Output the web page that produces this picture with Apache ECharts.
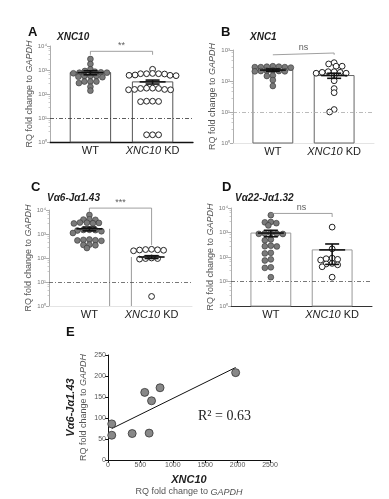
<!DOCTYPE html>
<html><head><meta charset="utf-8">
<script src="https://cdn.jsdelivr.net/npm/echarts@6/dist/echarts.min.js"></script>
<style>html,body{margin:0;padding:0;background:#fff}#c{width:389px;height:499px}</style>
</head><body><div id="c"></div>
<script>
// ---------- data ----------
const groups = ['WT', 'XNC10 KD'];
// Panel A  XNC10
const aWT = [2870,1780,1070,910,850,800,775,775,730,560,560,560,525,500,330,330,330,285,200,138];
const aKD = [1070,720,700,700,680,700,620,600,600,580,175,170,175,170,155,150,155,150,50,48,49,50,2,2,2];
const aMean = [780, 320];
const aSem = [150, 60];
// Panel B  XNC1
const bWT = [290,280,270,280,290,300,280,215,205,210,220,210,205,150,145,107,69];
const bKD = [300,355,390,300,200,178,190,200,178,190,145,102,57,42,10,12];
const bMean = [225, 150];
const bSem = [20, 28];
// Panel C  Va6-Ja1.43
const cWT = [6200,4000,3900,4100,2900,2800,3000,2950,2750,1500,1450,1480,1400,1300,1100,570,540,590,550,520,350,360,340,260];
const cKD = [230,215,200,220,210,225,95,90,100,95,2.5];
const cMean = [1650, 110];
const cSem = [300, 15];
// Panel D  Va22-Ja1.32
const dWT = [5100,2600,2400,2700,1950,900,950,870,920,880,520,480,275,290,270,148,140,80,72,36,38,15];
const dKD = [1660,215,90,80,75,85,52,48,55,40,15];
const dMean = [950, 195];
const dSem = [280, 145];
// Panel E  correlation
const eX = [58,58,373,567,672,803,635,1970];
const eY = [86,59,63,161,141,172,64,208];
const eXTicks = [0,500,1000,1500,2000,2500];
const eYTicks = [0,50,100,150,200,250];
const sigLabels = ['**','ns','***','ns'];
const rSquaredText = 'R\u00B2 = 0.63';

// ---------- layout / style ----------
const FONT = 'Liberation Sans';
const SUP = ['\u2070','\u00B9','\u00B2','\u00B3','\u2074','\u2075'];
const XMIN = 0.35, XMAX = 2.65, BW = 0.65, DIAM = 5.8;
const panels = [
  {letter:'A', title:'XNC10', wt:aWT, kd:aKD, mean:aMean, sem:aSem, maxExp:4,
   grid:{left:50, top:46, width:143, height:96}, xLine:{color:'#111', width:1.3},
   barStroke:'#555', barMode:'box', dash:{color:'#333', type:[4,2,1,2]},
   br:{top:6000, l:4300, r:4300}, letterPos:[28,26], titlePos:[57,32]},
  {letter:'B', title:'XNC1', wt:bWT, kd:bKD, mean:bMean, sem:bSem, maxExp:3,
   grid:{left:233, top:50, width:141, height:93}, xLine:{color:'#ddd', width:0.8},
   barStroke:'#666', barMode:'box', dash:{color:'#aaa', type:[4,2,1,2]},
   br:{top:800, l:700, r:700}, letterPos:[221,26], titlePos:[250,32]},
  {letter:'C', title:'V\u03B16-J\u03B11.43', wt:cWT, kd:cKD, mean:cMean, sem:cSem, maxExp:4,
   grid:{left:49, top:210, width:143, height:96}, xLine:{color:'#ddd', width:0.8},
   barStroke:'#999', barMode:'inner', dash:{color:'#555', type:[4,2,1,2]},
   br:{top:12000, l:8300, r:350}, letterPos:[31,181], titlePos:[47,193]},
  {letter:'D', title:'V\u03B122-J\u03B11.32', wt:dWT, kd:dKD, mean:dMean, sem:dSem, maxExp:4,
   grid:{left:231, top:208, width:141, height:98}, xLine:{color:'#333', width:1},
   barStroke:'#999', barMode:'box', dash:{color:'#555', type:[4,2,1,2]},
   br:{top:6000, l:4300, r:4300}, letterPos:[222,181], titlePos:[235,193]}
];

// beeswarm layout (rows may overlap a little vertically, like the original)
function swarm(vals, xc, p){
  const H = p.grid.height, pxPerUnit = p.grid.width / (XMAX - XMIN);
  const pts = vals.map(v => ({v, py:(p.maxExp - Math.log10(v)) / p.maxExp * H}))
                  .sort((a,b) => a.py - b.py);
  const placed = [], out = [];
  const D2 = DIAM * DIAM;
  for (const q of pts){
    let off = 0;
    for (let k = 0; k < 400; k++){
      const cand = (k % 2 === 0 ? 1 : -1) * Math.ceil(k/2) * 0.5;
      let ok = true;
      for (const r of placed){
        const dx = r.px - cand, dy = r.py - q.py;
        if (dx*dx + 2.4*dy*dy < D2) { ok = false; break; }
      }
      if (ok){ off = cand; break; }
    }
    placed.push({px:off, py:q.py});
    out.push([xc + off / pxPerUnit, q.v]);
  }
  return out;
}

const grids = [], xAxes = [], yAxes = [], series = [], titles = [];
panels.forEach((p, i) => {
  grids.push(Object.assign({containLabel:false}, p.grid));
  xAxes.push({
    gridIndex:i, type:'value', min:XMIN, max:XMAX,
    axisLine:{show:true, onZero:false, lineStyle:{color:p.xLine.color, width:p.xLine.width}},
    axisTick:{show:false}, splitLine:{show:false},
    axisLabel:{customValues:[1,2], margin:3, fontFamily:FONT, fontSize:11, color:'#222',
      formatter: v => v === 1 ? groups[0] : '{i|' + groups[1].split(' ')[0] + '} ' + groups[1].split(' ')[1],
      rich:{i:{fontStyle:'italic', fontFamily:FONT, fontSize:11, color:'#222'}}}
  });
  yAxes.push({
    gridIndex:i, type:'log', logBase:10, min:1, max:Math.pow(10, p.maxExp),
    axisLine:{show:true, lineStyle:{color:'#999', width:0.8}},
    axisTick:{show:true, length:3, lineStyle:{color:'#999', width:0.8}},
    minorTick:{show:true, splitNumber:5, length:1.5, lineStyle:{color:'#aaa', width:0.6}},
    splitLine:{show:false},
    axisLabel:{fontFamily:FONT, fontSize:6, color:'#777', margin:3,
      formatter: v => '10' + SUP[Math.round(Math.log10(v))]},
    name:'RQ fold change to {i|GAPDH}', nameLocation:'middle', nameGap:16,
    nameTextStyle:{fontFamily:FONT, fontSize:9, color:'#555',
      rich:{i:{fontStyle:'italic', fontFamily:FONT, fontSize:9, color:'#555'}}}
  });
  series.push({
    type:'custom', xAxisIndex:i, yAxisIndex:i, z:1, clip:false,
    data: p.mean.map((m, j) => [j + 1, m]),
    renderItem:(params, api) => {
      const x = api.value(0), m = api.value(1);
      const a = api.coord([x - BW/2, m]), b = api.coord([x + BW/2, 1]);
      if (p.barMode === 'inner'){
        const ex = x === 1 ? b[0] : a[0];
        return {type:'line', shape:{x1:ex, y1:a[1], x2:ex, y2:b[1]},
                style:{stroke:p.barStroke, lineWidth:1}};
      }
      return {type:'rect', shape:{x:a[0], y:a[1], width:b[0]-a[0], height:b[1]-a[1]},
              style:{fill:'#fff', stroke:p.barStroke, lineWidth:1}};
    },
    markLine:{silent:true, symbol:'none', animation:false, label:{show:false},
      lineStyle:{color:p.dash.color, type:p.dash.type, width:0.8},
      data:[{yAxis:10}]}
  });
  series.push({
    type:'scatter', xAxisIndex:i, yAxisIndex:i, z:3, symbolSize:DIAM,
    data: swarm(p.wt, 1, p),
    itemStyle:{color:'#7a7a7a', borderColor:'#333', borderWidth:0.6, opacity:1}
  });
  series.push({
    type:'scatter', xAxisIndex:i, yAxisIndex:i, z:3, symbolSize:DIAM,
    data: swarm(p.kd, 2, p),
    itemStyle:{color:'#fff', borderColor:'#222', borderWidth:1, opacity:1}
  });
  series.push({
    type:'custom', xAxisIndex:i, yAxisIndex:i, z:4, clip:false,
    data: p.mean.map((m, j) => [j + 1, m, m - p.sem[j], m + p.sem[j]]),
    renderItem:(params, api) => {
      const x = api.value(0);
      const c = api.coord([x, api.value(1)]), lo = api.coord([x, api.value(2)]), hi = api.coord([x, api.value(3)]);
      const st = {stroke:'#111', lineWidth:1.6};
      return {type:'group', children:[
        {type:'line', shape:{x1:c[0]-13, y1:c[1], x2:c[0]+13, y2:c[1]}, style:st},
        {type:'line', shape:{x1:c[0], y1:lo[1], x2:c[0], y2:hi[1]}, style:st},
        {type:'line', shape:{x1:c[0]-7, y1:lo[1], x2:c[0]+7, y2:lo[1]}, style:st},
        {type:'line', shape:{x1:c[0]-7, y1:hi[1], x2:c[0]+7, y2:hi[1]}, style:st}
      ]};
    }
  });
  series.push({
    type:'line', xAxisIndex:i, yAxisIndex:i, z:5, clip:false, symbol:'none', silent:true,
    lineStyle:{color:'#888', width:0.8},
    data:[[1, p.br.l],[1, p.br.top],[2, p.br.top],[2, p.br.r]]
  });
  series.push({
    type:'scatter', xAxisIndex:i, yAxisIndex:i, z:5, clip:false, symbolSize:0, silent:true,
    data:[[1.5, p.br.top]],
    label:{show:true, position:'top', distance:1, formatter:sigLabels[i],
      fontFamily:FONT, fontSize:9, color:'#333'}
  });
  titles.push({text:p.letter, left:p.letterPos[0], top:p.letterPos[1],
    textStyle:{fontFamily:FONT, fontSize:13, fontWeight:'bold', color:'#111'}, padding:0});
  titles.push({text:p.title, left:p.titlePos[0], top:p.titlePos[1],
    textStyle:{fontFamily:FONT, fontSize:10, fontWeight:'bold', fontStyle:'italic', color:'#222'}, padding:0});
});

// Panel E
const gi = panels.length;
grids.push({left:108, top:355, width:162, height:105, containLabel:false});
xAxes.push({gridIndex:gi, type:'value', min:eXTicks[0], max:eXTicks[eXTicks.length-1], interval:eXTicks[1]-eXTicks[0],
  axisLine:{show:true, onZero:false, lineStyle:{color:'#111', width:1}},
  axisTick:{show:true, length:3, lineStyle:{color:'#111'}}, splitLine:{show:false},
  axisLabel:{fontFamily:FONT, fontSize:7, color:'#555', margin:2, formatter: v => String(v)},
  name:'{b|XNC10}\n{n|RQ fold change to }{ni|GAPDH}', nameLocation:'middle', nameGap:14,
  nameTextStyle:{lineHeight:12, rich:{
    b:{fontFamily:FONT, fontSize:11, fontWeight:'bold', fontStyle:'italic', color:'#222', lineHeight:12},
    n:{fontFamily:FONT, fontSize:9, color:'#555', lineHeight:12},
    ni:{fontFamily:FONT, fontSize:9, fontStyle:'italic', color:'#555', lineHeight:12}}}
});
yAxes.push({gridIndex:gi, type:'value', min:eYTicks[0], max:eYTicks[eYTicks.length-1], interval:eYTicks[1]-eYTicks[0],
  axisLine:{show:true, onZero:false, lineStyle:{color:'#111', width:1}},
  axisTick:{show:true, length:3, lineStyle:{color:'#111'}}, splitLine:{show:false},
  axisLabel:{fontFamily:FONT, fontSize:7, color:'#555', margin:2, formatter: v => String(v)},
  name:'{b|V\u03B16-J\u03B11.43}\n{n|RQ fold change to }{ni|GAPDH}', nameLocation:'middle', nameGap:16,
  nameTextStyle:{lineHeight:13, rich:{
    b:{fontFamily:FONT, fontSize:11, fontWeight:'bold', fontStyle:'italic', color:'#222', lineHeight:13},
    n:{fontFamily:FONT, fontSize:9, color:'#555', lineHeight:13},
    ni:{fontFamily:FONT, fontSize:9, fontStyle:'italic', color:'#555', lineHeight:13}}}
});
// least squares fit
const n = eX.length;
const mx = eX.reduce((s,v)=>s+v,0)/n, my = eY.reduce((s,v)=>s+v,0)/n;
let sxy = 0, sxx = 0;
for (let k = 0; k < n; k++){ sxy += (eX[k]-mx)*(eY[k]-my); sxx += (eX[k]-mx)*(eX[k]-mx); }
const slope = sxy/sxx, icpt = my - slope*mx;
const x0 = Math.min(...eX), x1 = Math.max(...eX);
series.push({type:'line', xAxisIndex:gi, yAxisIndex:gi, z:2, symbol:'none', silent:true,
  lineStyle:{color:'#111', width:1},
  data:[[x0, icpt + slope*x0],[x1, icpt + slope*x1]]});
series.push({type:'scatter', xAxisIndex:gi, yAxisIndex:gi, z:3, symbolSize:8,
  data: eX.map((x,k)=>[x, eY[k]]),
  itemStyle:{color:'#888', borderColor:'#333', borderWidth:0.8, opacity:1}});
titles.push({text:'E', left:66, top:326, padding:0,
  textStyle:{fontFamily:FONT, fontSize:13, fontWeight:'bold', color:'#111'}});

const chart = echarts.init(document.getElementById('c'), null, {renderer:'canvas'});
chart.setOption({
  animation:false, backgroundColor:'#fff',
  title:titles, grid:grids, xAxis:xAxes, yAxis:yAxes, series:series,
  graphic:[{type:'text', left:198, top:409, silent:true,
    style:{text:rSquaredText, font:'14px "Liberation Serif"', fill:'#222'}}]
});
</script></body></html>
